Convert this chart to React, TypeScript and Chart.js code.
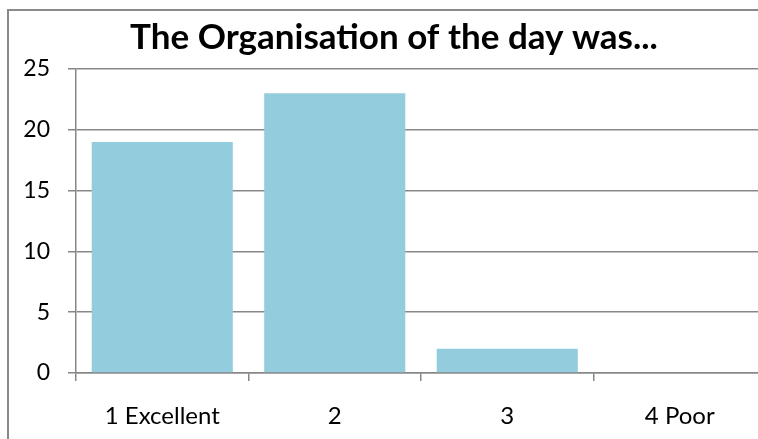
import React, { useEffect, useRef } from "react";
import { Chart, registerables } from "chart.js";

Chart.register(...registerables);

const titleText = "The Organisation of the day was...";
const categories = ["1 Excellent", "2", "3", "4 Poor"];
const values = [19, 23, 2, 0];
const yMin = 0;
const yMax = 25;
const yStep = 5;

const GRAY = "#878787";
const BAR = "#93CDDD";

export default function App() {
  const ref = useRef<HTMLCanvasElement | null>(null);

  useEffect(() => {
    if (!ref.current) return;
    const chart = new Chart(ref.current, {
      type: "bar",
      data: {
        labels: categories,
        datasets: [
          {
            data: values,
            backgroundColor: BAR,
            borderWidth: 0,
            barPercentage: 1,
            categoryPercentage: 0.818,
          },
        ],
      },
      options: {
        responsive: false,
        animation: false,
        layout: { padding: { left: 22, right: 34, top: 0, bottom: 0 } },
        plugins: {
          legend: { display: false },
          tooltip: { enabled: false },
          title: {
            display: true,
            text: titleText,
            color: "#000",
            font: { family: "Lato", size: 35, weight: "bold", lineHeight: 1.2 },
            padding: { top: 17, bottom: 10 },
          },
        },
        scales: {
          x: {
            offset: true,
            grid: {
              offset: true,
              drawOnChartArea: false,
              drawTicks: true,
              tickLength: 8,
              color: GRAY,
              lineWidth: 1.5,
            },
            border: { color: GRAY, width: 1.5 },
            ticks: {
              color: "#000",
              font: { family: "Lato", size: 24 },
              padding: 21,
              maxRotation: 0,
            },
            afterFit: (s: any) => {
              s.height = 66;
            },
          },
          y: {
            min: yMin,
            max: yMax,
            grid: {
              color: GRAY,
              lineWidth: 1.5,
              tickLength: 8,
              drawTicks: true,
            },
            border: { color: GRAY, width: 1.5 },
            ticks: {
              stepSize: yStep,
              color: "#000",
              font: { family: "Lato", size: 23 },
              padding: 18,
            },
            afterFit: (s: any) => {
              s.width = 54;
            },
          },
        },
      },
    });
    return () => chart.destroy();
  }, []);

  return (
    <div
      style={{
        position: "fixed",
        left: 0,
        top: 0,
        width: 758,
        height: 439,
        overflow: "hidden",
        background: "#fff",
      }}
    >
      <div
        style={{
          position: "absolute",
          left: 7,
          top: 9,
          width: 800,
          height: 500,
          border: "2px solid #8a8a8a",
          boxSizing: "border-box",
        }}
      />
      <canvas
        ref={ref}
        width={800}
        height={439}
        style={{ position: "absolute", left: 0, top: 0, width: 800, height: 439 }}
      />
    </div>
  );
}
